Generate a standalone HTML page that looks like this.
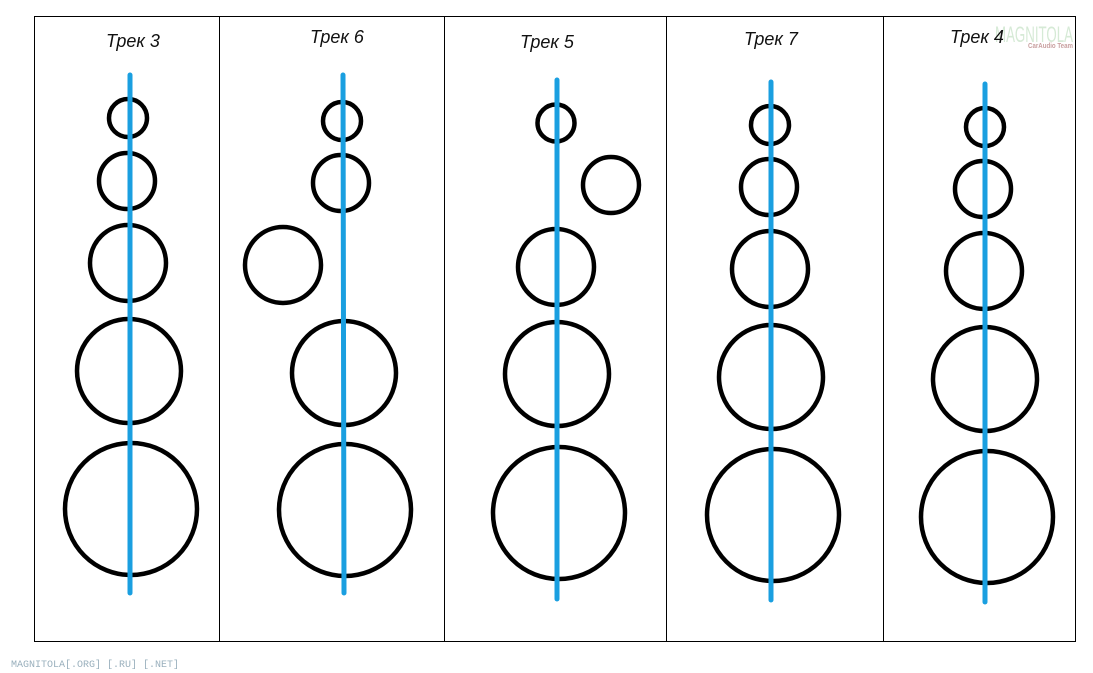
<!DOCTYPE html>
<html><head><meta charset="utf-8"><style>
html,body{margin:0;padding:0;background:#fff;width:1093px;height:673px;overflow:hidden}
svg{display:block}
.t{font-family:"Liberation Sans","DejaVu Sans",sans-serif;font-style:italic;font-size:18px;fill:#111}
</style></head><body>
<svg width="1093" height="673" viewBox="0 0 1093 673" xmlns="http://www.w3.org/2000/svg">
<rect x="34.5" y="16.5" width="1041" height="625" fill="none" stroke="#000" stroke-width="1"/>
<g stroke="#000" stroke-width="1">
<line x1="219.5" y1="16" x2="219.5" y2="641"/>
<line x1="444.5" y1="16" x2="444.5" y2="641"/>
<line x1="666.5" y1="16" x2="666.5" y2="641"/>
<line x1="883.5" y1="16" x2="883.5" y2="641"/>
</g>
<text x="995" y="42" font-family="Liberation Sans,sans-serif" font-size="22" fill="#d6ead6" textLength="78" lengthAdjust="spacingAndGlyphs">MAGNITOLA</text>
<text x="1028" y="48" font-family="Liberation Sans,sans-serif" font-size="7" font-weight="bold" fill="#c9a0a0" textLength="45" lengthAdjust="spacingAndGlyphs">CarAudio Team</text>
<text class="t" x="106" y="47">Трек 3</text>
<text class="t" x="310" y="43">Трек 6</text>
<text class="t" x="520" y="48">Трек 5</text>
<text class="t" x="744" y="45">Трек 7</text>
<text class="t" x="950" y="43">Трек 4</text>
<g fill="none" stroke="#000" stroke-width="4.5">
<circle cx="128" cy="118" r="19"/><circle cx="127" cy="181" r="28"/><circle cx="128" cy="263" r="38"/><circle cx="129" cy="371" r="52"/><circle cx="131" cy="509" r="66"/>
<circle cx="342" cy="121" r="19"/><circle cx="341" cy="183" r="28"/><circle cx="283" cy="265" r="38"/><circle cx="344" cy="373" r="52"/><circle cx="345" cy="510" r="66"/>
<circle cx="556" cy="123" r="18.5"/><circle cx="611" cy="185" r="28"/><circle cx="556" cy="267" r="38"/><circle cx="557" cy="374" r="52"/><circle cx="559" cy="513" r="66"/>
<circle cx="770" cy="125" r="19"/><circle cx="769" cy="187" r="28"/><circle cx="770" cy="269" r="38"/><circle cx="771" cy="377" r="52"/><circle cx="773" cy="515" r="66"/>
<circle cx="985" cy="127" r="19"/><circle cx="983" cy="189" r="28"/><circle cx="984" cy="271" r="38"/><circle cx="985" cy="379" r="52"/><circle cx="987" cy="517" r="66"/>
</g>
<g stroke="#1a9fe0" stroke-width="5" stroke-linecap="round">
<line x1="130" y1="75" x2="130" y2="593"/>
<line x1="343" y1="75" x2="344" y2="593"/>
<line x1="557" y1="80" x2="557" y2="599"/>
<line x1="771" y1="82" x2="771" y2="600"/>
<line x1="985" y1="84" x2="985" y2="602"/>
</g>
<text x="11" y="667" font-family="Liberation Mono,monospace" font-size="10" fill="#9ab0bd">MAGNITOLA[.ORG] [.RU] [.NET]</text>
</svg>
</body></html>
